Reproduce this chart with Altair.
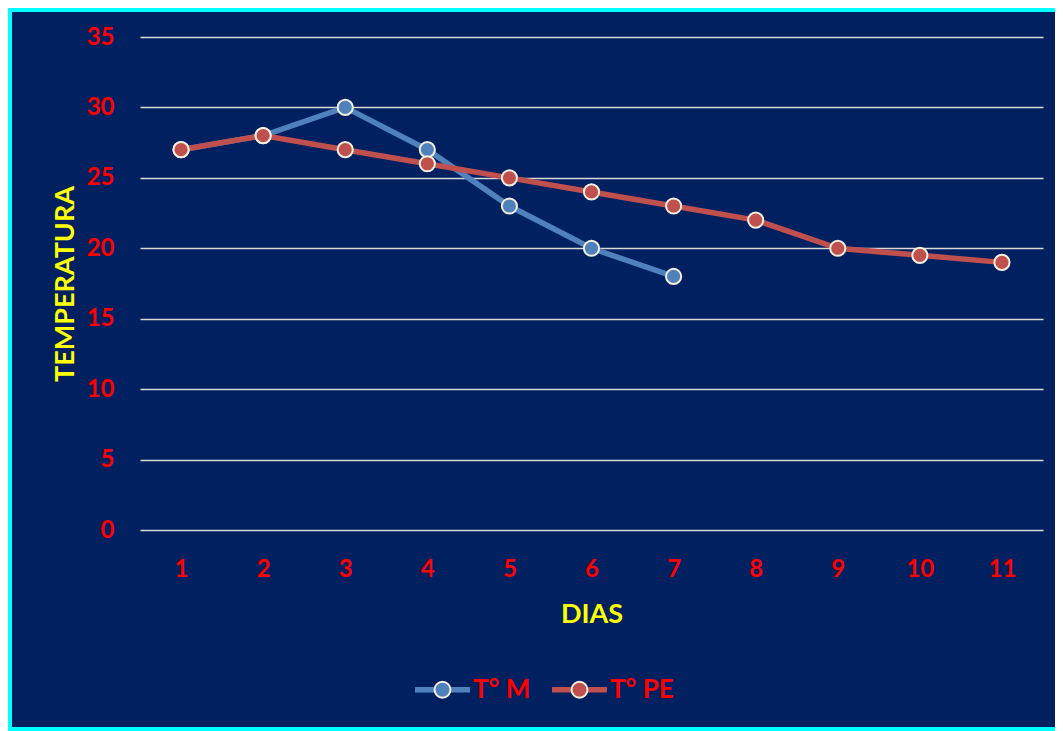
import altair as alt
import pandas as pd

# ---- data ----
dias = list(range(1, 12))
t_m = [27, 28, 30, 27, 23, 20, 18]
t_pe = [27, 28, 27, 26, 25, 24, 23, 22, 20, 19.5, 19]
series = ["T° M", "T° PE"]
colors = ["#4F81BD", "#C0504D"]
y_ticks = [0, 5, 10, 15, 20, 25, 30, 35]

rows = [{"dia": d, "temp": v, "serie": series[0]} for d, v in zip(dias, t_m)]
rows += [{"dia": d, "temp": v, "serie": series[1]} for d, v in zip(dias, t_pe)]
df = pd.DataFrame(rows)

W, H = 903, 493
FONT = "Lato"
RED = "#FF0000"
YELLOW = "#FFFF00"
NAVY = "#002060"
CIRCLE = "M-0.29,0A0.29,0.29,0,1,1,0.29,0A0.29,0.29,0,1,1,-0.29,0Z"

x_enc = alt.X(
    "dia:O",
    sort=dias,
    scale=alt.Scale(type="point", padding=0.5),
    axis=alt.Axis(
        title="DIAS", labelAngle=0, labelColor=RED, labelFont=FONT,
        labelFontSize=24, labelFontWeight="bold", labelBaseline="alphabetic",
        labelPadding=46, ticks=False, domain=False, grid=False,
        titleColor=YELLOW, titleFont=FONT, titleFontSize=27,
        titleFontWeight="bold", titleBaseline="alphabetic", titleY=92,
    ),
)
y_enc = alt.Y(
    "temp:Q",
    scale=alt.Scale(domain=[0, 35], nice=False),
    axis=alt.Axis(
        values=y_ticks, title="TEMPERATURA", labelColor=RED, labelFont=FONT,
        labelFontSize=24, labelFontWeight="bold", labelPadding=26,
        ticks=False, domain=False, grid=True, gridColor="#D9D9D9",
        gridWidth=1.5, titleColor=YELLOW, titleFont=FONT, titleFontSize=27,
        titleFontWeight="bold", titleAngle=270, titleBaseline="alphabetic",
        titleX=-67, titleY=246.5,
    ),
)

leg_common = dict(
    title=None, orient="none", direction="horizontal", symbolSize=3025,
    labelFont=FONT, labelFontSize=26, labelFontWeight="bold",
    labelColor=RED, padding=0,
)

lines = alt.Chart(df).mark_line(strokeWidth=5.5).encode(
    x=x_enc,
    y=y_enc,
    stroke=alt.Stroke(
        "serie:N", scale=alt.Scale(domain=series, range=colors),
        legend=alt.Legend(
            symbolType="stroke", symbolStrokeWidth=5.5, labelOffset=0,
            columnPadding=10, legendX=272, legendY=622, **leg_common
        ),
    ),
)

points = alt.Chart(df).transform_calculate(serie2="datum.serie").mark_point(
    filled=True, size=230, stroke="#F2EEE0", strokeWidth=2, opacity=1
).encode(
    x=x_enc,
    y=y_enc,
    fill=alt.Fill(
        "serie2:N", scale=alt.Scale(range=colors),
        legend=alt.Legend(
            symbolType=CIRCLE, symbolStrokeWidth=2, labelExpr="''",
            labelOffset=0, columnPadding=80, legendX=274, legendY=624,
            **leg_common
        ),
    ),
)

border = alt.Chart(alt.Data(values=[{}])).mark_rect(
    filled=False, stroke="#00FFFF", strokeWidth=4
).encode(
    x=alt.value(-130), x2=alt.value(W + 30),
    y=alt.value(-27), y2=alt.value(H + 199),
)

chart = alt.layer(lines, points, border).properties(
    width=W, height=H, background=NAVY,
    padding={"left": 132, "top": 29, "right": 12, "bottom": 201},
    autosize=alt.AutoSizeParams(type="none"),
).configure_view(stroke=None)

chart.save("out.html", embed_options={"renderer": "svg", "actions": False})
